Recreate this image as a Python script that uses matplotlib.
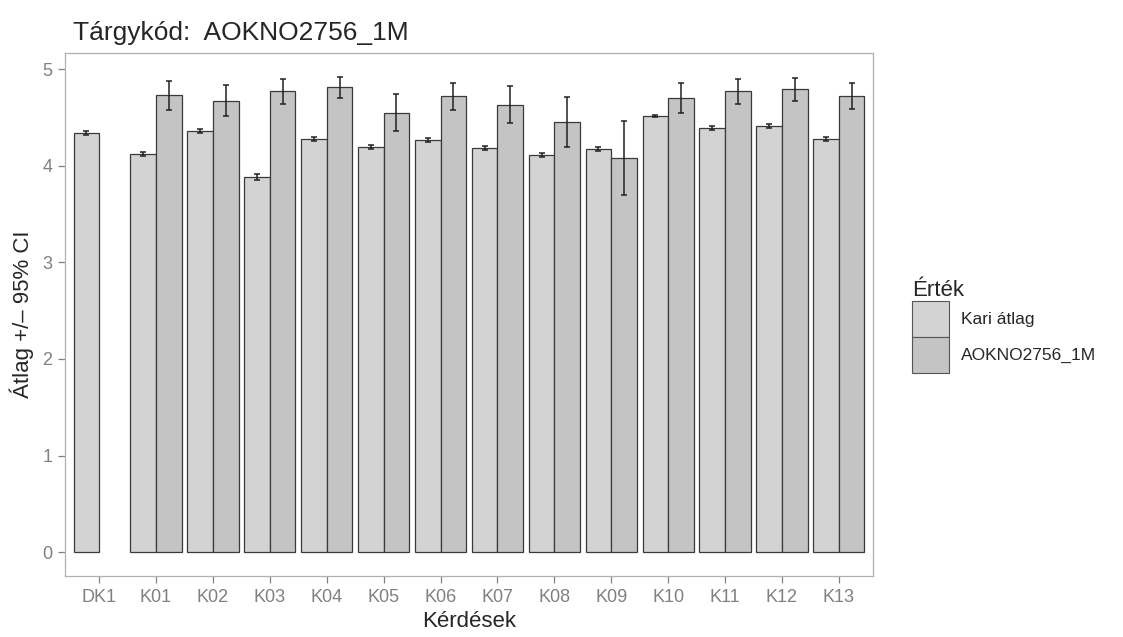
import matplotlib
matplotlib.use('Agg')
import matplotlib.pyplot as plt
from matplotlib.patches import Patch
import numpy as np

plt.rcParams['font.family'] = ['Liberation Sans', 'DejaVu Sans']

# values (scan was slightly rotated, corrected by eye)
categories = ['DK1', 'K01', 'K02', 'K03', 'K04', 'K05', 'K06',
              'K07', 'K08', 'K09', 'K10', 'K11', 'K12', 'K13']
kari_mean = [4.34, 4.12, 4.36, 3.88, 4.28, 4.19, 4.27,
             4.18, 4.11, 4.17, 4.51, 4.39, 4.41, 4.28]
kari_ci = [0.02, 0.02, 0.02, 0.03, 0.02, 0.02, 0.02,
           0.02, 0.02, 0.02, 0.01, 0.02, 0.02, 0.02]
course_mean = [np.nan, 4.73, 4.67, 4.77, 4.81, 4.55, 4.72,
               4.63, 4.45, 4.08, 4.70, 4.77, 4.79, 4.72]
course_ci = [np.nan, 0.15, 0.16, 0.13, 0.11, 0.19, 0.14,
             0.19, 0.26, 0.38, 0.16, 0.13, 0.12, 0.135]
series_names = ['Kari átlag', 'AOKNO2756_1M']
targykod = 'AOKNO2756_1M'

kari_col = '#d3d3d3'
course_col = '#c4c4c4'
edge_col = '#3a3a3a'
tick_col = '#808080'
text_col = '#262626'

W, H = 1123, 637
fig = plt.figure(figsize=(W / 100, H / 100), dpi=100)
fig.patch.set_facecolor('white')
ax = fig.add_axes([65 / W, 1 - 576 / H, (873 - 65) / W, (576 - 53) / H])

x = np.arange(len(categories))
bw = 0.45
ax.bar(x - bw / 2, kari_mean, width=bw, color=kari_col, edgecolor=edge_col, linewidth=0.9)
ax.bar(x + bw / 2, course_mean, width=bw, color=course_col, edgecolor=edge_col, linewidth=0.9)
ax.errorbar(x - bw / 2, kari_mean, yerr=kari_ci, fmt='none', ecolor='#222222',
            elinewidth=1.1, capsize=2.5, capthick=1.1)
ax.errorbar(x + bw / 2, course_mean, yerr=course_ci, fmt='none', ecolor='#222222',
            elinewidth=1.1, capsize=2.5, capthick=1.1)

# ggplot-like expansion
top = np.nanmax(np.array(course_mean) + np.array(course_ci))
ax.set_ylim(-0.05 * top, top * 1.05)
ax.set_xlim(-0.6, len(categories) - 0.4)

ax.set_xticks(x)
ax.set_xticklabels(categories)
ax.set_yticks([0, 1, 2, 3, 4, 5])
ax.tick_params(axis='both', colors=tick_col, labelsize=13, length=5, width=0.9, pad=4)
for sp in ax.spines.values():
    sp.set_color('#b0b0b0')
    sp.set_linewidth(0.9)

ax.set_xlabel('Kérdések', fontsize=16, color=text_col, labelpad=4)
ax.set_ylabel('Átlag +/– 95% CI', fontsize=16, color=text_col, labelpad=6)
fig.text(73 / W, 1 - 33 / H, 'Tárgykód:  ' + targykod, fontsize=19,
         color=text_col, va='center', ha='left')

handles = [Patch(facecolor=kari_col, edgecolor='#555555', linewidth=0.8),
           Patch(facecolor=course_col, edgecolor='#555555', linewidth=0.8)]
leg = fig.legend(handles, series_names, title='Érték', loc='upper left',
                 bbox_to_anchor=(900 / W, 1 - 268 / H), frameon=False,
                 fontsize=12.5, title_fontsize=16, handlelength=2.1, handleheight=2.8,
                 labelspacing=0.0, handletextpad=0.7, borderpad=0.2)
leg._legend_box.align = 'left'
for t in leg.get_texts():
    t.set_color(text_col)
leg.get_title().set_color(text_col)

fig.savefig('out.png', dpi=100, facecolor='white')
